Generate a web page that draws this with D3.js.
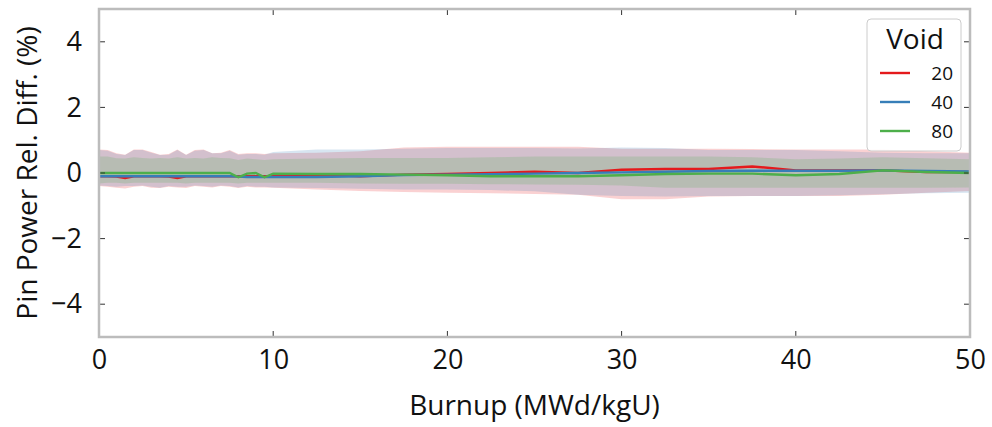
<!DOCTYPE html>
<html>
<head>
<meta charset="utf-8">
<script src="https://cdn.jsdelivr.net/npm/d3@7"></script>
<style>
  body { margin: 0; background: #fff; }
  text { font-family: "Open Sans", sans-serif; fill: #111; }
</style>
</head>
<body>
<svg id="chart"></svg>
<script>
// burnup steps (MWd/kgU)
let burnup = [0, 0.5, 1, 1.5, 2, 2.5, 3, 3.5, 4, 4.5, 5, 5.5, 6, 6.5, 7, 7.5, 8, 8.5, 9, 9.5, 10,
              12.5, 15, 17.5, 20, 22.5, 25, 27.5, 30, 32.5, 35, 37.5, 40, 42.5, 45, 47.5, 50]

// mean relative difference (%) per void fraction
let void20 = [-0.1, -0.1, -0.11, -0.15, -0.1, -0.1, -0.1, -0.1, -0.11, -0.15, -0.1, -0.1, -0.1, -0.1, -0.1, -0.1, -0.1, -0.1, -0.1, -0.1, -0.1,
              -0.05, -0.1, -0.05, -0.03, 0.0, 0.04, 0.0, 0.1, 0.12, 0.12, 0.2, 0.08, 0.08, 0.08, 0.03, 0.03]
let void40 = [-0.1, -0.1, -0.1, -0.1, -0.1, -0.1, -0.1, -0.1, -0.1, -0.1, -0.1, -0.1, -0.1, -0.1, -0.1, -0.1, -0.11, -0.12, -0.12, -0.12, -0.12,
              -0.12, -0.1, -0.06, -0.05, -0.04, -0.02, 0.0, 0.02, 0.04, 0.06, 0.07, 0.07, 0.07, 0.08, 0.06, 0.05]
let void80 = [0, 0, 0, 0, 0, 0, 0, 0, 0, 0, 0, 0, 0, 0, 0, 0, -0.13, -0.02, 0, -0.13, -0.02,
              -0.03, -0.03, -0.05, -0.07, -0.1, -0.1, -0.1, -0.07, -0.03, -0.02, -0.02, -0.07, -0.03, 0.08, 0.03, 0.0]

// spread bands (upper / lower)
let void20Hi = [0.72, 0.7, 0.6, 0.56, 0.72, 0.72, 0.64, 0.56, 0.58, 0.72, 0.56, 0.7, 0.72, 0.6, 0.62, 0.7, 0.58, 0.6, 0.6, 0.58, 0.6,
                0.62, 0.66, 0.78, 0.8, 0.8, 0.8, 0.8, 0.74, 0.74, 0.74, 0.73, 0.72, 0.72, 0.72, 0.66, 0.62]
let void20Lo = [-0.4, -0.42, -0.45, -0.47, -0.42, -0.4, -0.45, -0.46, -0.42, -0.44, -0.46, -0.4, -0.42, -0.44, -0.4, -0.42, -0.46, -0.42, -0.44, -0.44, -0.45,
                -0.5, -0.55, -0.58, -0.6, -0.62, -0.64, -0.66, -0.8, -0.8, -0.72, -0.7, -0.7, -0.7, -0.66, -0.6, -0.55]
let void40Hi = [0.7, 0.68, 0.58, 0.55, 0.7, 0.7, 0.62, 0.55, 0.56, 0.7, 0.55, 0.68, 0.7, 0.6, 0.6, 0.68, 0.56, 0.58, 0.58, 0.56, 0.64,
                0.72, 0.72, 0.74, 0.76, 0.76, 0.76, 0.75, 0.78, 0.76, 0.7, 0.7, 0.7, 0.66, 0.62, 0.6, 0.6]
let void40Lo = [-0.38, -0.4, -0.42, -0.4, -0.4, -0.38, -0.42, -0.45, -0.4, -0.42, -0.42, -0.38, -0.4, -0.42, -0.38, -0.4, -0.44, -0.4, -0.42, -0.42, -0.44,
                -0.46, -0.48, -0.5, -0.5, -0.52, -0.56, -0.66, -0.7, -0.72, -0.7, -0.7, -0.7, -0.68, -0.65, -0.62, -0.6]
let void80Hi = [0.5, 0.5, 0.45, 0.44, 0.48, 0.46, 0.44, 0.46, 0.44, 0.48, 0.44, 0.46, 0.44, 0.48, 0.46, 0.45, 0.4, 0.44, 0.42, 0.4, 0.42,
                0.44, 0.46, 0.46, 0.46, 0.48, 0.5, 0.5, 0.5, 0.5, 0.5, 0.48, 0.42, 0.44, 0.48, 0.45, 0.42]
let void80Lo = [-0.32, -0.3, -0.3, -0.32, -0.3, -0.3, -0.3, -0.3, -0.3, -0.3, -0.32, -0.3, -0.3, -0.3, -0.3, -0.3, -0.32, -0.3, -0.3, -0.3, -0.3,
                -0.3, -0.32, -0.33, -0.33, -0.34, -0.35, -0.36, -0.38, -0.45, -0.45, -0.45, -0.45, -0.45, -0.45, -0.45, -0.44]

let voidLabels = ["20", "40", "80"]
let colors = ["#e41a1c", "#377eb8", "#4daf4a"]
let xTicks = [0, 10, 20, 30, 40, 50]
let yTicks = [-4, -2, 0, 2, 4]

let series = [
  { name: voidLabels[0], mean: void20, hi: void20Hi, lo: void20Lo, color: colors[0] },
  { name: voidLabels[1], mean: void40, hi: void40Hi, lo: void40Lo, color: colors[1] },
  { name: voidLabels[2], mean: void80, hi: void80Hi, lo: void80Lo, color: colors[2] }
]

let width = 992
let height = 427
let margin = { top: 9, right: 22, bottom: 90, left: 99 }

let svg = d3.select("#chart").attr("width", width).attr("height", height)

let xScale = d3.scaleLinear().domain([0, 50]).range([margin.left, width - margin.right])
let yScale = d3.scaleLinear().domain([-5, 5]).range([height - margin.bottom, margin.top])

// bands first, then the lines on top
series.forEach(function(s) {
  let area = d3.area()
    .x((d, i) => xScale(burnup[i]))
    .y0((d, i) => yScale(s.lo[i]))
    .y1((d, i) => yScale(s.hi[i]))
  svg.append("path")
     .datum(burnup)
     .attr("d", area)
     .attr("fill", s.color)
     .attr("fill-opacity", 0.2)
})

series.forEach(function(s) {
  let line = d3.line()
    .x((d, i) => xScale(burnup[i]))
    .y((d) => yScale(d))
  svg.append("path")
     .datum(s.mean)
     .attr("d", line)
     .attr("fill", "none")
     .attr("stroke", s.color)
     .attr("stroke-width", 2.4)
})

// axes with inward ticks on all sides
let tickLen = 6
let xAxis = d3.axisBottom(xScale).tickValues(xTicks).tickSize(0).tickPadding(13)
let yAxis = d3.axisLeft(yScale).tickValues(yTicks).tickSize(0).tickPadding(17)

let gx = svg.append("g")
   .attr("transform", "translate(0," + (height - margin.bottom) + ")")
   .call(xAxis)
gx.select(".domain").remove()
gx.selectAll("text").style("font-size", "27px").attr("fill", "#111")

let gy = svg.append("g")
   .attr("transform", "translate(" + margin.left + ",0)")
   .call(yAxis)
gy.select(".domain").remove()
gy.selectAll("text").style("font-size", "27px").attr("fill", "#111")

let ticks = svg.append("g").attr("stroke", "#333").attr("stroke-width", 1)
xTicks.slice(1, -1).forEach(function(t) {
  ticks.append("line").attr("x1", xScale(t)).attr("x2", xScale(t))
       .attr("y1", yScale(-5)).attr("y2", yScale(-5) - tickLen)
  ticks.append("line").attr("x1", xScale(t)).attr("x2", xScale(t))
       .attr("y1", yScale(5)).attr("y2", yScale(5) + tickLen)
})
yTicks.forEach(function(t) {
  ticks.append("line").attr("x1", xScale(0)).attr("x2", xScale(0) + tickLen)
       .attr("y1", yScale(t)).attr("y2", yScale(t))
  ticks.append("line").attr("x1", xScale(50)).attr("x2", xScale(50) - tickLen)
       .attr("y1", yScale(t)).attr("y2", yScale(t))
})

// frame
svg.append("rect")
   .attr("x", xScale(0)).attr("y", yScale(5))
   .attr("width", xScale(50) - xScale(0))
   .attr("height", yScale(-5) - yScale(5))
   .attr("fill", "none")
   .attr("stroke", "#bcbcbc")
   .attr("stroke-width", 2.5)

// axis titles
svg.append("text")
   .attr("x", (xScale(0) + xScale(50)) / 2)
   .attr("y", 415)
   .attr("text-anchor", "middle")
   .style("font-size", "28px")
   .text("Burnup (MWd/kgU)")

svg.append("text")
   .attr("transform", "translate(37," + yScale(0) + ") rotate(-90)")
   .attr("text-anchor", "middle")
   .style("font-size", "28px")
   .text("Pin Power Rel. Diff. (%)")

// legend
let legend = svg.append("g").attr("transform", "translate(867,19)")
legend.append("rect")
   .attr("width", 94).attr("height", 132)
   .attr("rx", 4)
   .attr("fill", "#fff").attr("fill-opacity", 0.85)
   .attr("stroke", "#cccccc").attr("stroke-width", 1)
legend.append("text")
   .attr("x", 48).attr("y", 30)
   .attr("text-anchor", "middle")
   .style("font-size", "28px")
   .text("Void")
series.forEach(function(s, i) {
  let row = legend.append("g").attr("transform", "translate(0," + (54 + i * 29) + ")")
  row.append("line").attr("x1", 13).attr("x2", 43)
     .attr("stroke", s.color).attr("stroke-width", 2.4)
  row.append("text").attr("x", 86).attr("y", 7)
     .attr("text-anchor", "end")
     .style("font-size", "19px")
     .text(s.name)
})
</script>
</body>
</html>
